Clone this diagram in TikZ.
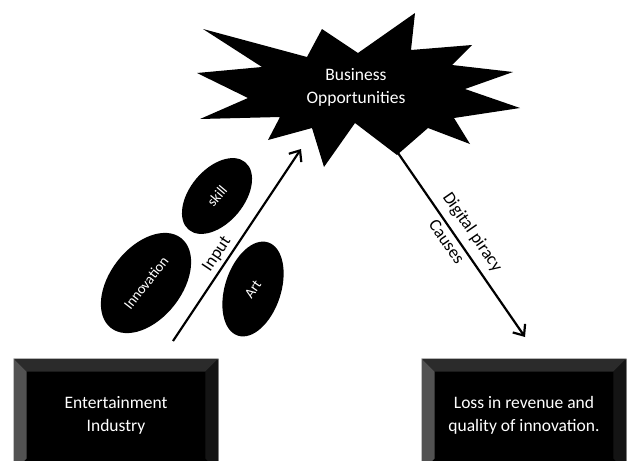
\documentclass[tikz,border=0pt]{standalone}
\usepackage{fontspec}
\setmainfont{Carlito}
\usetikzlibrary{shapes.geometric,arrows.meta,calc}

\tikzset{
  bevelbox/.style={draw=gray!55, line width=0.6pt, fill=black, text=white,
    minimum width=204pt, minimum height=112pt, align=center,
    font=\fontsize{17.5}{23}\selectfont},
  blob/.style={ellipse, fill=black, text=white, inner sep=0pt,
    font=\fontsize{14.5}{16}\selectfont},
  flow/.style={line width=2.2pt,
    -{Straight Barb[length=9pt,width=15pt,line width=2.2pt]}},
  lbl/.style={font=\fontsize{17.5}{23}\selectfont}
}

\begin{document}
\begin{tikzpicture}[x=1pt, y=-1pt]
    \useasboundingbox (0,0) rectangle (630,461);
    \clip (0,0) rectangle (630,461);

    % l'explosion "Business Opportunities"
    \fill (203,29) -- (307,57) -- (322,29) -- (358,53) -- (415,13) -- (411,50)
        -- (472,45) -- (452,65) -- (513,72) -- (465,89) -- (520,108) -- (454,118)
        -- (470,144) -- (428,128) -- (397,155) -- (355,123) -- (324,167) -- (312,128)
        -- (268,140) -- (280,117) -- (200,119) -- (248,98) -- (197,73) -- (262,67) -- cycle;
    \node[lbl, text=white, align=center] (biz) at (356,87) {Business\\Opportunities};

    % les deux boites
    \node[bevelbox] (ent) at (116,415) {Entertainment\\Industry};
    \node[bevelbox] (loss) at (524,415) {Loss in revenue and\\quality of innovation.};

    % les biseaux des boites
    \foreach \bx in {ent,loss}{
        \fill[black!83] (\bx.north west) -- (\bx.north east) -- ++(-13,13)
            -- ($(\bx.north west)+(13,13)$) -- cycle;
        \fill[black!68] (\bx.north west) -- ($(\bx.north west)+(13,13)$)
            -- ($(\bx.south west)+(13,-13)$) -- (\bx.south west) -- cycle;
        \fill[black!92] (\bx.north east) -- ($(\bx.north east)+(-13,13)$)
            -- ($(\bx.south east)+(-13,-13)$) -- (\bx.south east) -- cycle;
    }

    % les ellipses
    \node[blob, minimum width=88pt, minimum height=54pt, rotate=50] (skill) at (217,196) {skill};
    \node[blob, minimum width=114pt, minimum height=72pt, rotate=52] (innov) at (146,283) {Innovation};
    \node[blob, minimum width=98pt, minimum height=56pt, rotate=72] (art) at (253,289) {};
    \node[blob, fill=none, rotate=55] (arttext) at (art) {Art};

    % les fleches
    \coordinate (in-tail) at (173,341);
    \coordinate (in-head) at (301,149);
    \coordinate (pir-tail) at (398,153);
    \coordinate (pir-head) at (525,337);

    \draw[flow] (in-tail) -- (in-head) node[lbl, pos=0.42, above, sloped] {Input};
    \draw[flow] (pir-tail) -- (pir-head)
        node[lbl, pos=0.48, above=4pt, sloped] {Digital piracy}
        node[lbl, pos=0.45, below, sloped] {Causes};
\end{tikzpicture}
\end{document}
